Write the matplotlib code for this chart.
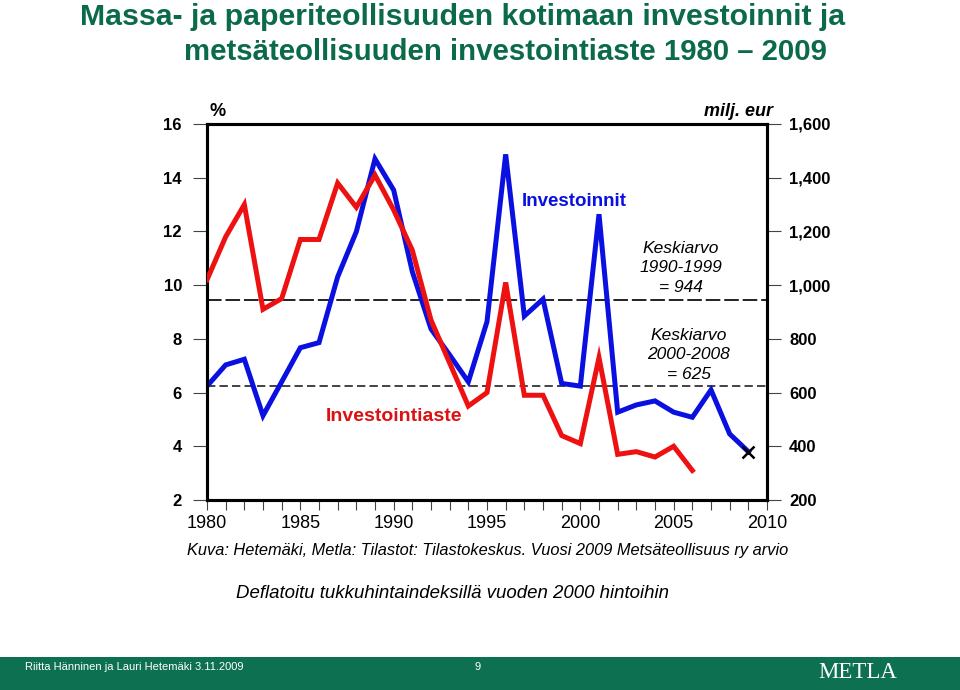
import matplotlib
matplotlib.use("Agg")
import matplotlib.pyplot as plt
from matplotlib.patches import Rectangle

plt.rcParams['font.family'] = ['Liberation Sans', 'DejaVu Sans']

years = list(range(1980, 2010))
# Investointiaste, % (left axis), 1980-2006
rate_years = list(range(1980, 2007))
rate = [10.2, 11.8, 13.0, 9.1, 9.5, 11.7, 11.7, 13.8, 12.9, 14.1,
        12.8, 11.3, 8.7, 7.1, 5.5, 6.0, 10.1, 5.9, 5.9, 4.4,
        4.1, 7.3, 3.7, 3.8, 3.6, 4.0, 3.1]
# Investoinnit, milj. eur (right axis), 1980-2009
invest = [624, 703, 724, 514, 640, 767, 786, 1031, 1199, 1470,
          1354, 1050, 837, 740, 640, 864, 1487, 885, 948, 634,
          624, 1264, 527, 554, 569, 527, 508, 610, 446, 380]
mean_9099 = 944
mean_0008 = 625
left_ticks = [2, 4, 6, 8, 10, 12, 14, 16]
right_ticks = [200, 400, 600, 800, 1000, 1200, 1400, 1600]
right_labels = ['200', '400', '600', '800', '1,000', '1,200', '1,400', '1,600']

GREEN = '#0b6b48'
fig = plt.figure(figsize=(9.6, 6.9), dpi=100)

ax = fig.add_axes([207/960, 1-500/690, 560/960, 376/690])
ax2 = ax.twinx()

ax.set_xlim(1980, 2010)
ax.set_ylim(2, 16)
ax2.set_ylim(200, 1600)

ax2.axhline(mean_9099, color='#222222', lw=1.4, dashes=(7.5, 2.0), zorder=1)
ax2.axhline(mean_0008, color='#222222', lw=1.2, dashes=(5, 2.5), zorder=1)

ax2.plot(years, invest, color='#0a10e0', lw=3.6, solid_joinstyle='miter', zorder=3)
ax.plot(rate_years, rate, color='#ee1111', lw=3.6, solid_joinstyle='miter', zorder=4)
ax2.plot([2009], [invest[-1]], marker='x', color='black', ms=9, mew=1.8, zorder=5)

ax.set_zorder(ax2.get_zorder() + 1)
ax.patch.set_visible(False)

for a in (ax, ax2):
    for s in a.spines.values():
        s.set_linewidth(2.2)
        s.set_color('black')

ax.set_yticks(left_ticks)
ax.set_yticklabels([str(v) for v in left_ticks], fontsize=12, fontweight='bold')
ax.tick_params(axis='y', direction='out', length=10, width=0.8, color='#444444', pad=8)
ax2.set_yticks(right_ticks)
ax2.set_yticklabels(right_labels, fontsize=12, fontweight='bold')
ax2.tick_params(axis='y', direction='out', length=10, width=0.8, color='#444444', pad=6)

ax.set_xticks(range(1980, 2011))
ax.set_xticklabels([str(y) if y % 5 == 0 else '' for y in range(1980, 2011)], fontsize=13)
ax.tick_params(axis='x', direction='out', length=7, width=0.8, color='#444444', pad=4)

ax.text(0.005, 1.01, '%', transform=ax.transAxes, fontsize=13, fontweight='bold', va='bottom', ha='left')
ax.text(1.01, 1.01, 'milj. eur', transform=ax.transAxes, fontsize=13, fontstyle='italic',
        fontweight='bold', va='bottom', ha='right')

ax2.text(1999.7, 1313, 'Investoinnit', color='#0a10e0', fontsize=13.5, fontweight='bold',
         ha='center', va='center')
ax.text(1990.0, 5.1, 'Investointiaste', color='#dd1111', fontsize=14, fontweight='bold',
        ha='center', va='center')
ax2.text(2005.4, 1064, 'Keskiarvo\n1990-1999\n= 944', fontsize=12.5, fontstyle='italic',
         ha='center', va='center', linespacing=1.38)
ax2.text(2005.8, 740, 'Keskiarvo\n2000-2008\n= 625', fontsize=12.5, fontstyle='italic',
         ha='center', va='center', linespacing=1.38)

fig.text(80/960, 1-17/690, 'Massa- ja paperiteollisuuden kotimaan investoinnit ja',
         fontsize=21.8, fontweight='bold', color=GREEN, ha='left', va='center')
fig.text(505/960, 1-52/690, 'metsäteollisuuden investointiaste 1980 \u2013 2009',
         fontsize=21.2, fontweight='bold', color=GREEN, ha='center', va='center')

fig.text(187/960, 1-551/690, 'Kuva: Hetemäki, Metla: Tilastot: Tilastokeskus. Vuosi 2009 Metsäteollisuus ry arvio',
         fontsize=11.8, fontstyle='italic', ha='left', va='center')
fig.text(236/960, 1-594/690, 'Deflatoitu tukkuhintaindeksillä vuoden 2000 hintoihin',
         fontsize=13.4, fontstyle='italic', ha='left', va='center')

fig.patches.append(Rectangle((0, 0), 1, 33/690, transform=fig.transFigure,
                             facecolor='#0d7050', edgecolor='none', zorder=0))
fig.text(25/960, 1-667/690, 'Riitta Hänninen ja Lauri Hetemäki 3.11.2009', fontsize=8,
         color='white', ha='left', va='center')
fig.text(478/960, 1-667/690, '9', fontsize=8, color='white', ha='center', va='center')
fig.text(858/960, 1-673/690, 'METLA', fontsize=16.5, color='white', ha='center', va='center',
         family=['Liberation Serif', 'DejaVu Serif'])

fig.savefig('out.png', dpi=100)
